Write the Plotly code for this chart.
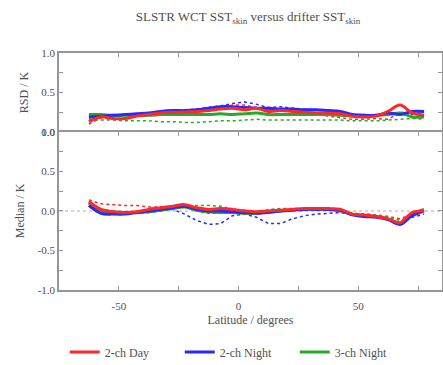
import plotly.graph_objects as go

lat = [-62.5, -57.5, -52.5, -47.5, -42.5, -37.5, -32.5, -27.5, -22.5, -17.5, -12.5, -7.5, -2.5,
       2.5, 7.5, 12.5, 17.5, 22.5, 27.5, 32.5, 37.5, 42.5, 47.5, 52.5, 57.5, 62.5, 67.5, 72.5, 77.5]

# RSD (top panel), solid
rsd_day = [0.13, 0.19, 0.17, 0.17, 0.20, 0.22, 0.24, 0.25, 0.25, 0.26, 0.27, 0.29, 0.30,
           0.28, 0.30, 0.26, 0.27, 0.26, 0.25, 0.24, 0.24, 0.23, 0.20, 0.19, 0.20, 0.26, 0.34, 0.24, 0.21]
rsd_night2 = [0.19, 0.20, 0.21, 0.22, 0.23, 0.24, 0.26, 0.27, 0.27, 0.28, 0.30, 0.32, 0.32,
              0.31, 0.30, 0.30, 0.29, 0.29, 0.28, 0.28, 0.27, 0.26, 0.22, 0.21, 0.21, 0.24, 0.22, 0.26, 0.26]
rsd_night3 = [0.22, 0.22, 0.21, 0.21, 0.21, 0.21, 0.22, 0.22, 0.22, 0.22, 0.22, 0.23, 0.22,
              0.23, 0.24, 0.22, 0.22, 0.22, 0.22, 0.22, 0.22, 0.21, 0.21, 0.21, 0.21, 0.22, 0.24, 0.19, 0.19]
# RSD dotted
rsd_day_d = [0.10, 0.18, 0.16, 0.17, 0.20, 0.22, 0.23, 0.23, 0.24, 0.25, 0.27, 0.30, 0.34,
             0.34, 0.31, 0.28, 0.27, 0.26, 0.24, 0.22, 0.20, 0.18, 0.16, 0.16, 0.17, 0.16, 0.25, 0.24, 0.22]
rsd_night2_d = [0.18, 0.19, 0.21, 0.22, 0.23, 0.24, 0.25, 0.27, 0.28, 0.29, 0.31, 0.33, 0.36,
                0.38, 0.35, 0.31, 0.32, 0.30, 0.29, 0.28, 0.27, 0.25, 0.22, 0.21, 0.21, 0.23, 0.22, 0.22, 0.25]
rsd_night3_d = [0.16, 0.15, 0.15, 0.14, 0.14, 0.14, 0.13, 0.13, 0.12, 0.12, 0.13, 0.14, 0.14,
                0.15, 0.16, 0.15, 0.15, 0.15, 0.15, 0.15, 0.15, 0.15, 0.14, 0.14, 0.14, 0.15, 0.16, 0.17, 0.16]

# Median (bottom panel), solid
med_day = [0.12, 0.02, -0.01, -0.02, -0.01, 0.02, 0.04, 0.06, 0.08, 0.04, 0.02, 0.03, 0.02,
           0.00, -0.01, 0.00, 0.01, 0.02, 0.03, 0.03, 0.03, 0.02, -0.04, -0.05, -0.07, -0.10, -0.15, -0.02, 0.00]
med_night2 = [0.07, -0.03, -0.04, -0.04, -0.02, 0.00, 0.02, 0.04, 0.06, 0.02, 0.00, 0.00, -0.01,
              -0.02, -0.03, -0.02, 0.00, 0.01, 0.02, 0.02, 0.02, 0.01, -0.05, -0.07, -0.08, -0.11, -0.17, -0.06, 0.00]
med_night3 = [0.10, 0.00, -0.02, -0.02, -0.02, -0.01, 0.01, 0.03, 0.05, 0.01, -0.01, -0.02, -0.02,
              -0.03, -0.03, -0.01, 0.00, 0.01, 0.02, 0.02, 0.02, 0.00, -0.04, -0.06, -0.07, -0.10, -0.15, -0.04, 0.02]
# Median dotted
med_day_d = [0.14, 0.09, 0.08, 0.07, 0.07, 0.05, 0.05, 0.06, 0.06, 0.00, -0.03, -0.03, 0.00,
             0.01, -0.01, -0.02, 0.00, 0.02, 0.03, 0.03, 0.03, 0.03, -0.03, -0.04, -0.05, -0.07, -0.10, -0.04, 0.00]
med_night2_d = [0.06, -0.03, -0.04, -0.04, -0.03, -0.02, 0.00, 0.02, -0.04, -0.12, -0.17, -0.16, -0.06,
                -0.04, -0.08, -0.16, -0.16, -0.10, -0.06, -0.04, -0.03, -0.02, -0.05, -0.07, -0.08, -0.11, -0.15, -0.08, -0.04]
med_night3_d = [0.10, 0.02, 0.00, -0.01, -0.01, 0.00, 0.02, 0.04, 0.06, 0.07, 0.07, 0.06, 0.02,
                -0.02, -0.03, 0.02, 0.03, 0.03, 0.03, 0.03, 0.02, 0.00, -0.03, -0.04, -0.05, -0.08, -0.12, -0.06, 0.01]

names = ["2-ch Day", "2-ch Night", "3-ch Night"]
colors = ["rgb(255,40,40)", "rgb(40,40,255)", "rgb(40,170,40)"]

x_ticks = [-75, -50, -25, 0, 25, 50, 75]
x_labels = ["", "-50", "", "0", "", "50", ""]
y_top_ticks = [0.0, 0.25, 0.5, 0.75, 1.0]
y_top_labels = ["0.0", "", "0.5", "", "1.0"]
y_bot_ticks = [-1.0, -0.75, -0.5, -0.25, 0.0, 0.25, 0.5, 0.75, 1.0]
y_bot_labels = ["-1.0", "", "-0.5", "", "0.0", "", "0.5", "", "1.0"]

SERIF = "Times New Roman, Liberation Serif, serif"
TXT = "rgb(80,80,80)"

fig = go.Figure()

# zero reference line
fig.add_trace(go.Scatter(x=[-75, 85], y=[0, 0], mode="lines", xaxis="x2", yaxis="y2",
                         line=dict(color="rgb(200,200,200)", width=1.5, dash="dot"),
                         showlegend=False, hoverinfo="skip"))

for vals, c in zip([rsd_day_d, rsd_night2_d, rsd_night3_d], colors):
    fig.add_trace(go.Scatter(x=lat, y=vals, mode="lines", xaxis="x", yaxis="y",
                             line=dict(color=c, width=1.5, dash="dot"), showlegend=False))
for vals, c in zip([med_day_d, med_night2_d, med_night3_d], colors):
    fig.add_trace(go.Scatter(x=lat, y=vals, mode="lines", xaxis="x2", yaxis="y2",
                             line=dict(color=c, width=1.5, dash="dot"), showlegend=False))

order = [2, 1, 0]
rsd_solid = [rsd_day, rsd_night2, rsd_night3]
med_solid = [med_day, med_night2, med_night3]
for i in order:
    fig.add_trace(go.Scatter(x=lat, y=rsd_solid[i], mode="lines", xaxis="x", yaxis="y",
                             line=dict(color=colors[i], width=3, shape="spline"),
                             showlegend=False))
for i in [0, 1, 2]:
    fig.add_trace(go.Scatter(x=lat, y=[None] * len(lat), mode="lines",
                             xaxis="x2", yaxis="y2", name=names[i],
                             line=dict(color=colors[i], width=3), showlegend=True))
for i in order:
    fig.add_trace(go.Scatter(x=lat, y=med_solid[i], mode="lines", xaxis="x2", yaxis="y2",
                             line=dict(color=colors[i], width=3, shape="spline"),
                             showlegend=False))

axis_common = dict(showline=True, linecolor="rgb(150,150,150)", linewidth=1.5,
                   ticks="inside", ticklen=4, tickcolor="rgb(150,150,150)", tickwidth=1,
                   showgrid=False, zeroline=False,
                   tickfont=dict(family=SERIF, size=11, color=TXT))
title_font = dict(family=SERIF, size=12, color=TXT)

fig.update_layout(
    width=443, height=365,
    margin=dict(l=59, r=1, t=53, b=75, autoexpand=False),
    paper_bgcolor="white", plot_bgcolor="white",
    title=dict(text="SLSTR WCT SST<sub>skin</sub> versus drifter SST<sub>skin</sub>",
               x=0.56, xanchor="center", y=0.955, yanchor="middle",
               font=dict(family=SERIF, size=13, color=TXT)),
    xaxis=dict(domain=[0, 1], range=[-75, 85], anchor="y", side="top", mirror=False,
               tickvals=x_ticks, ticktext=[""] * len(x_ticks), **axis_common),
    yaxis=dict(domain=[0.667, 1], range=[0, 1], anchor="x", tickvals=y_top_ticks,
               ticktext=y_top_labels, mirror="ticks",
               title=dict(text="RSD / K", standoff=10, font=title_font),
               **axis_common),
    xaxis2=dict(domain=[0, 1], range=[-75, 85], anchor="y2", tickvals=x_ticks,
                ticktext=x_labels, mirror="ticks", ticklabelstandoff=5,
                title=dict(text="Latitude / degrees", standoff=5, font=title_font),
                **axis_common),
    yaxis2=dict(domain=[0, 0.667], range=[-1, 1], anchor="x2", tickvals=y_bot_ticks,
                ticktext=y_bot_labels, mirror="ticks",
                title=dict(text="Median / K", standoff=10, font=title_font),
                **axis_common),
    legend=dict(orientation="h", x=0.015, xanchor="left", y=-0.262, yanchor="middle",
                font=dict(family=SERIF, size=12, color=TXT),
                entrywidth=70, entrywidthmode="pixels", itemwidth=30, tracegroupgap=0),
)

fig.write_html("out.html")
